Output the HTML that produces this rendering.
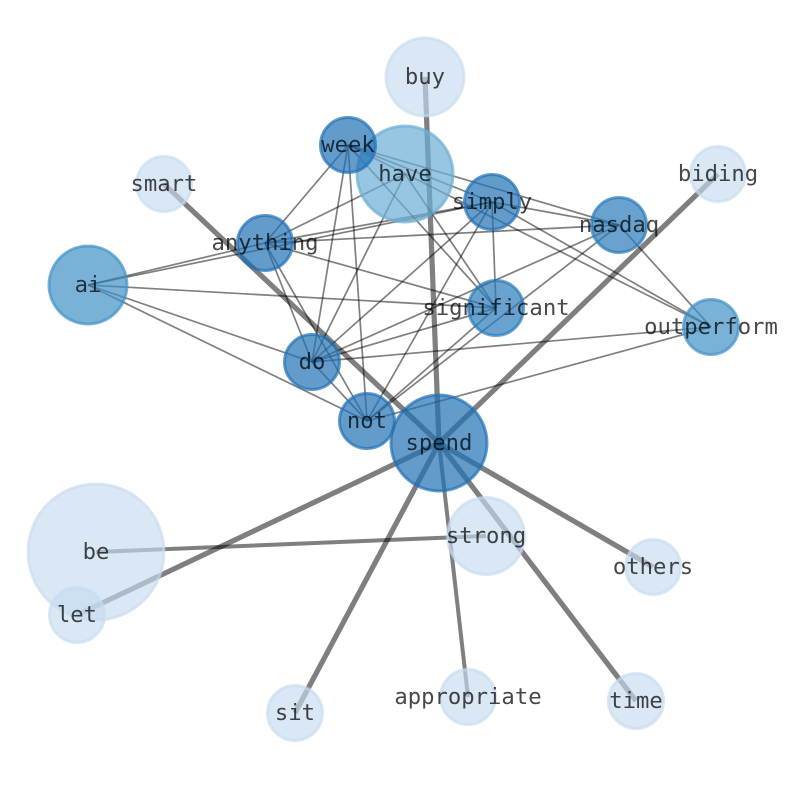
<!DOCTYPE html>
<html><head><meta charset="utf-8"><style>
html,body{margin:0;padding:0;background:#fff}
svg{display:block}
text{font-family:"DejaVu Sans Mono",monospace;font-size:22.22px;text-anchor:middle;fill:#000;fill-opacity:.72}
.a{stroke:#000;stroke-opacity:.5;stroke-width:1.7;fill:none}
.b{stroke:#000;stroke-opacity:.5;stroke-width:5.2;fill:none}
.n1{fill:#c6dbef;stroke:#c6dbef;fill-opacity:.65;stroke-opacity:.65}
.n2{fill:#2171b5;stroke:#2171b5}
.n3{fill:#4292c6;stroke:#4292c6}
.n4{fill:#6baed6;stroke:#6baed6}
.n5{fill:#2a7ab9;stroke:#2a7ab9}
circle{fill-opacity:.7;stroke-opacity:.7;stroke-width:3}
</style></head><body>
<svg width="794" height="790" viewBox="0 0 794 790" xmlns="http://www.w3.org/2000/svg">
<g class="b">
<line x1="439" y1="443" x2="425" y2="77"/>
<line x1="439" y1="443" x2="164" y2="184"/>
<line x1="439" y1="443" x2="718" y2="174"/>
<line x1="439" y1="443" x2="77" y2="615"/>
<line x1="439" y1="443" x2="295" y2="713"/>
<line x1="439" y1="443" x2="636" y2="701"/>
<line x1="439" y1="443" x2="653" y2="567"/>
<line x1="439" y1="443" x2="468" y2="697" style="stroke-width:4"/>
<line x1="96" y1="552" x2="486" y2="536" style="stroke-width:4"/>
</g>
<g class="a">
<line x1="88" y1="285" x2="265" y2="243"/>
<line x1="88" y1="285" x2="492" y2="202"/>
<line x1="88" y1="285" x2="496" y2="308"/>
<line x1="88" y1="285" x2="312" y2="362"/>
<line x1="88" y1="285" x2="367" y2="421"/>
<line x1="265" y1="243" x2="348" y2="145"/>
<line x1="265" y1="243" x2="405" y2="174"/>
<line x1="265" y1="243" x2="492" y2="202"/>
<line x1="265" y1="243" x2="619" y2="225"/>
<line x1="265" y1="243" x2="496" y2="308"/>
<line x1="265" y1="243" x2="312" y2="362"/>
<line x1="265" y1="243" x2="367" y2="421"/>
<line x1="348" y1="145" x2="312" y2="362"/>
<line x1="348" y1="145" x2="367" y2="421"/>
<line x1="348" y1="145" x2="492" y2="202"/>
<line x1="348" y1="145" x2="619" y2="225"/>
<line x1="348" y1="145" x2="711" y2="327"/>
<line x1="348" y1="145" x2="496" y2="308"/>
<line x1="405" y1="174" x2="312" y2="362"/>
<line x1="405" y1="174" x2="496" y2="308"/>
<line x1="492" y1="202" x2="312" y2="362"/>
<line x1="492" y1="202" x2="367" y2="421"/>
<line x1="492" y1="202" x2="496" y2="308"/>
<line x1="492" y1="202" x2="619" y2="225"/>
<line x1="492" y1="202" x2="711" y2="327"/>
<line x1="619" y1="225" x2="711" y2="327"/>
<line x1="619" y1="225" x2="312" y2="362"/>
<line x1="619" y1="225" x2="367" y2="421"/>
<line x1="496" y1="308" x2="312" y2="362"/>
<line x1="496" y1="308" x2="367" y2="421"/>
<line x1="711" y1="327" x2="312" y2="362"/>
<line x1="711" y1="327" x2="367" y2="421"/>
<line x1="312" y1="362" x2="367" y2="421"/>
</g>
<circle class="n1" cx="96" cy="552" r="68"/>
<circle class="n1" cx="425" cy="77" r="39"/>
<circle class="n1" cx="486" cy="536" r="38.5"/>
<circle class="n1" cx="718" cy="174" r="27.5"/>
<circle class="n1" cx="164" cy="184" r="27.5"/>
<circle class="n1" cx="653" cy="567" r="27.5"/>
<circle class="n1" cx="77" cy="615" r="27.5"/>
<circle class="n1" cx="468" cy="697" r="27.5"/>
<circle class="n1" cx="636" cy="701" r="27.5"/>
<circle class="n1" cx="295" cy="713" r="27.5"/>
<circle class="n4" cx="405" cy="174" r="48"/>
<circle class="n3" cx="88" cy="285" r="39"/>
<circle class="n3" cx="711" cy="327" r="27.5"/>
<circle class="n5" cx="619" cy="225" r="27.5"/>
<circle class="n5" cx="496" cy="308" r="27.5"/>
<circle class="n2" cx="348" cy="145" r="27.5"/>
<circle class="n2" cx="492" cy="202" r="27.5"/>
<circle class="n2" cx="265" cy="243" r="27.5"/>
<circle class="n2" cx="312" cy="362" r="27.5"/>
<circle class="n2" cx="367" cy="421" r="27.5"/>
<circle class="n2" cx="439" cy="443" r="48"/>
<text x="425" y="84">buy</text>
<text x="348" y="152">week</text>
<text x="405" y="181">have</text>
<text x="492" y="209">simply</text>
<text x="718" y="181">biding</text>
<text x="164" y="191">smart</text>
<text x="619" y="232">nasdaq</text>
<text x="265" y="250">anything</text>
<text x="88" y="292">ai</text>
<text x="496" y="315">significant</text>
<text x="711" y="334">outperform</text>
<text x="312" y="369">do</text>
<text x="367" y="428">not</text>
<text x="439" y="450">spend</text>
<text x="486" y="543">strong</text>
<text x="653" y="574">others</text>
<text x="96" y="559">be</text>
<text x="77" y="622">let</text>
<text x="468" y="704">appropriate</text>
<text x="636" y="708">time</text>
<text x="295" y="720">sit</text>
</svg>
</body></html>
